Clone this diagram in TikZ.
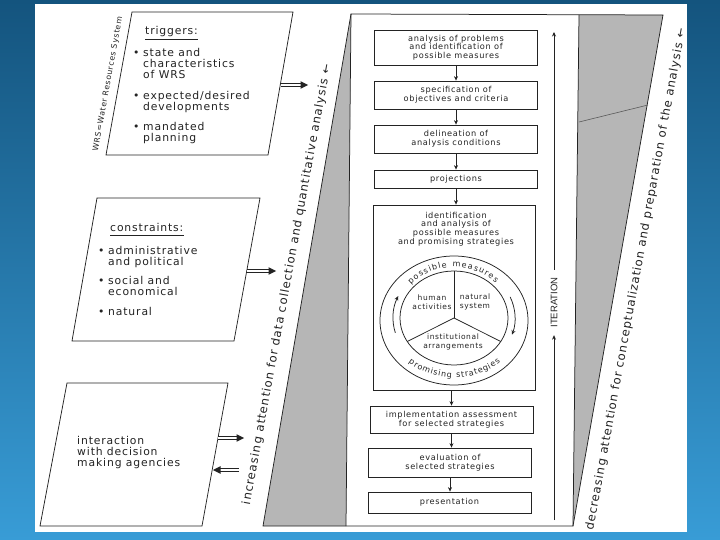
\documentclass[tikz,border=0pt]{standalone}
\usepackage{fontspec}
\setmainfont{DejaVu Sans}[LetterSpace=8]
\newfontfamily\itfont{Liberation Sans}
\usetikzlibrary{arrows.meta,decorations.text,calc}
\definecolor{bgtop}{RGB}{20,84,126}
\definecolor{bgbot}{RGB}{56,156,214}
\definecolor{ink}{RGB}{35,35,35}
\definecolor{stip}{RGB}{182,182,182}
\newcommand\bl{\makebox[10pt][l]{\textbullet}}
\newcommand\ind{\hspace*{10pt}}
\newcommand\ringfont{\fontsize{8}{8}\selectfont}
\begin{document}
\begin{tikzpicture}[x=1pt,y=-1pt,
  lw/.style={draw=ink, line width=0.75pt},
  boxn/.style={draw=ink, line width=0.75pt, minimum width=163pt, inner sep=0pt, align=center, text=ink, font=\fontsize{8.2}{8.7}\selectfont},
  btxt/.style={inner sep=0pt, align=center, text=ink, font=\fontsize{8.2}{8.7}\selectfont},
  rtxt/.style={inner sep=0pt, align=center, text=ink, font=\fontsize{7.5}{9}\selectfont},
  ptxt/.style={inner sep=0pt, align=left, text=ink, font=\fontsize{10.8}{11}\selectfont},
  sidetxt/.style={inner sep=0pt, text=ink, font=\fontsize{11.7}{13}\selectfont},
  flow/.style={draw=ink, line width=0.7pt, -{Stealth[length=4.5pt,width=4pt]}},
  dbl/.style={draw=ink, line width=0.65pt, double=white, double distance=2.6pt, shorten >=6pt}
]
\useasboundingbox (0,0) rectangle (720,540);
% background
\shade[top color=bgtop, bottom color=bgbot] (0,0) rectangle (720,540);
\fill[white] (35,4) rectangle (687,532);

% shaded wedges and frame
\fill[stip] (351,14) -- (346,526) -- (263,526) -- cycle;
\fill[stip] (579,15) -- (663,15) -- (573,526) -- cycle;
\draw[lw] (263,526) -- (351,14) -- (663,15) -- (573,526) -- cycle;
\draw[lw] (351,14) -- (346,526);
\draw[lw] (579,15) -- (573,526);
\draw[ink!75, line width=0.6pt] (579,122) -- (648,105);

% left panels
\draw[lw] (132,12) -- (293,12) -- (268,155) -- (106,155) -- cycle;
\draw[lw] (97,198) -- (260,198) -- (234,341) -- (72,341) -- cycle;
\draw[lw] (67,383) -- (228,383) -- (202,526) -- (40,526) -- cycle;

\node[inner sep=0pt, text=ink, font=\fontsize{7.8}{8}\selectfont, rotate=79.7] (wrs) at (108,84) {WRS=Water Resources System};

\node[ptxt, anchor=base west] (trig) at (145,35) {triggers:};
\draw[ink, line width=1pt] ([yshift=-4.5pt]trig.base west) -- ([yshift=-4.5pt]trig.base east);
\node[ptxt, anchor=north west] (tlist) at (133,48) {\bl state and\\\ind characteristics\\\ind of WRS\\[10pt]\bl expected/desired\\\ind developments\\[9.5pt]\bl mandated\\\ind planning};

\node[ptxt, anchor=base west] (cons) at (110,231) {constraints:};
\draw[ink, line width=1pt] ([yshift=-4.5pt]cons.base west) -- ([yshift=-4.5pt]cons.base east);
\node[ptxt, anchor=north west] (clist) at (98,246) {\bl administrative\\\ind and political\\[8pt]\bl social and\\\ind economical\\[9pt]\bl natural};

\node[ptxt, anchor=north west] (inter) at (77,436) {interaction\\with decision\\making agencies};

% double arrows
\coordinate (a1s) at (281,85);  \coordinate (a1e) at (308,85);
\coordinate (a2s) at (247,271); \coordinate (a2e) at (276,271);
\coordinate (a3s) at (218,438); \coordinate (a3e) at (244,438);
\coordinate (a4s) at (239,470); \coordinate (a4e) at (213,470);
\draw[dbl] (a1s) -- (a1e); \fill[ink] (a1e) -- ++(-7.5,-3.8) -- ++(0,7.6) -- cycle;
\draw[dbl] (a2s) -- (a2e); \fill[ink] (a2e) -- ++(-7.5,-3.8) -- ++(0,7.6) -- cycle;
\draw[dbl] (a3s) -- (a3e); \fill[ink] (a3e) -- ++(-7.5,-3.8) -- ++(0,7.6) -- cycle;
\draw[dbl] (a4s) -- (a4e); \fill[ink] (a4e) -- ++(7.5,-3.8) -- ++(0,7.6) -- cycle;

% side texts
\node[sidetxt, rotate=79.6] (lt) at (287,284.5) {increasing attention for data collection and quantitative analysis ←};
\node[sidetxt, rotate=79.6] (rt) at (636,279.5) {decreasing attention for conceptualization and preparation of the analysis ←};

% process boxes
\node[boxn, minimum height=35pt] (b1) at (456,47.5) {analysis of problems\\and identification of\\possible measures};
\node[boxn, minimum height=28pt] (b2) at (456,95) {specification of\\objectives and criteria};
\node[boxn, minimum height=28pt] (b3) at (456,139) {delineation of\\analysis conditions};
\node[boxn, minimum height=18pt] (b4) at (456,179) {projections};
\node[boxn, minimum width=162pt, minimum height=185pt] (big) at (454.5,297.5) {};
\node[btxt] (bigt) at (456,229) {identification\\and analysis of\\possible measures\\and promising strategies};
\node[boxn, minimum height=27pt] (b5) at (451.5,419.5) {implementation assessment\\for selected strategies};
\node[boxn, minimum height=29pt] (b6) at (450,462.5) {evaluation of\\selected strategies};
\node[boxn, minimum height=21pt] (b7) at (449.5,502.5) {presentation};

\draw[flow] (b1) -- (b2);
\draw[flow] (b2) -- (b3);
\draw[flow] (b3) -- (b4);
\draw[flow] (b4.south) -- (b4.south |- big.north);
\draw[flow] (b5.north |- big.south) -- (b5.north);
\draw[flow] (b5.south) -- (b5.south |- b6.north);
\draw[flow] (b6.south) -- (b6.south |- b7.north);

% ring
\coordinate (oc) at (454,320.5);
\coordinate (ic) at (454,318);
\draw[lw] (oc) ellipse [x radius=74, y radius=64.5];
\draw[lw] (ic) ellipse [x radius=54, y radius=47];
\coordinate (s1) at ([shift={(-90:54 and 47)}]ic);
\coordinate (s2) at ([shift={(-210:54 and 47)}]ic);
\coordinate (s3) at ([shift={(30:54 and 47)}]ic);
\draw[lw] (ic) -- (s1);
\draw[lw] (ic) -- (s2);
\draw[lw] (ic) -- (s3);
\node[rtxt] (hum) at (432,302) {human\\activities};
\node[rtxt] (nat) at (475,302) {natural\\system};
\node[rtxt] (ins) at (453,341.5) {institutional\\arrangements};

\path[decorate, decoration={text along path, text color=ink, text={|\ringfont|possible measures}, text align={fit to path}}]
  ([shift={(-138:58 and 53.5)}]oc) arc[start angle=-138, end angle=-44, x radius=58, y radius=53.5];
\path[decorate, decoration={text along path, text color=ink, text={|\ringfont|promising strategies}, text align={fit to path}}]
  ([shift={(-228:68 and 57)}]oc) arc[start angle=-228, end angle=-313, x radius=68, y radius=57];

\draw[lw, -{Stealth[length=4.5pt,width=4pt]}] ([shift={(-196:61 and 54)}]ic) arc[start angle=-196, end angle=-156, x radius=61, y radius=54];
\draw[lw, -{Stealth[length=4.5pt,width=4pt]}] ([shift={(-23:61 and 54)}]ic) arc[start angle=-23, end angle=18, x radius=61, y radius=54];

% iteration
\node[inner xsep=7.5pt, inner ysep=0pt, text=ink, font=\itfont\fontsize{9.5}{10}\selectfont, rotate=90] (iter) at (554,302.5) {ITERATION};
\coordinate (itb) at (554,520);
\coordinate (itt) at (554,32);
\draw[flow] (itb) -- (iter.west);
\draw[flow] (iter.east) -- (itt);
\end{tikzpicture}
\end{document}
